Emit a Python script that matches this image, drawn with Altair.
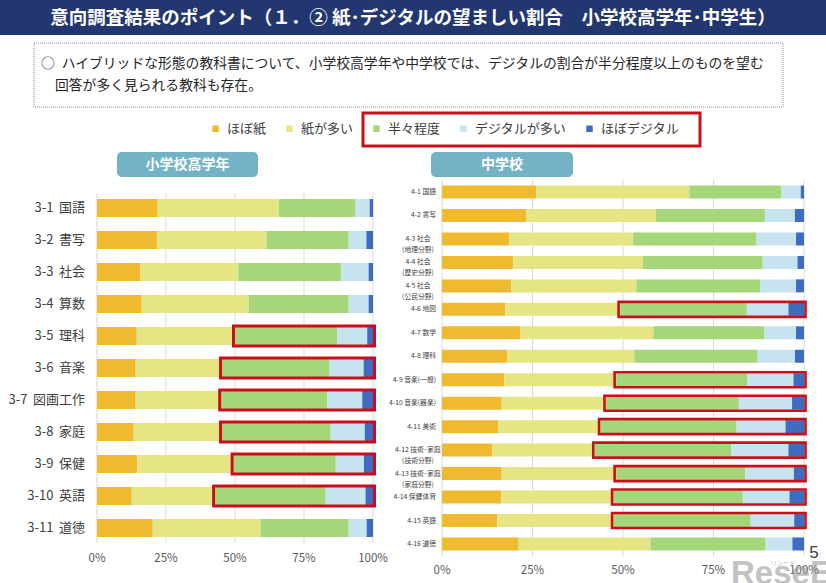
import altair as alt
import pandas as pd

FONT = "Noto Sans CJK JP"

categories = ["ほぼ紙", "紙が多い", "半々程度", "デジタルが多い", "ほぼデジタル"]
colors = ["#EFBA2F", "#E6E583", "#A6D67A", "#C6E3EF", "#3D6CC0"]

# 小学校高学年
elem_subjects = ["3-1\u00a0\u2009国語", "3-2\u00a0\u2009書写", "3-3\u00a0\u2009社会", "3-4\u00a0\u2009算数",
                 "3-5\u00a0\u2009理科", "3-6\u00a0\u2009音楽", "3-7\u00a0\u2009図画工作", "3-8\u00a0\u2009家庭",
                 "3-9\u00a0\u2009保健", "3-10\u00a0\u2009英語", "3-11\u00a0\u2009道徳"]
elem_mostly_paper = [22.0, 21.7, 15.6, 16.2, 14.4, 14.0, 14.0, 13.3, 14.6, 12.6, 20.2]
elem_more_paper = [44.0, 39.7, 35.6, 38.8, 35.6, 31.3, 31.0, 32.0, 34.9, 30.2, 39.1]
elem_half = [27.8, 29.8, 37.3, 36.2, 37.1, 39.0, 38.5, 39.4, 37.0, 40.1, 31.9]
elem_more_digital = [5.1, 6.4, 9.9, 7.2, 10.8, 12.3, 12.6, 12.3, 10.2, 14.4, 6.5]
elem_mostly_digital = [1.2, 2.4, 1.6, 1.6, 2.1, 3.4, 3.9, 3.0, 3.3, 2.7, 2.3]
elem_highlight = elem_subjects[4:10]

# 中学校
jhs_subjects = ["4-1 国語", "4-2 書写", "4-3 社会\n(地理分野)", "4-4 社会\n(歴史分野)",
                "4-5 社会\n(公民分野)", "4-6 地図", "4-7 数学", "4-8 理科", "4-9 音楽(一般)",
                "4-10 音楽(器楽)", "4-11 美術", "4-12 技術･家庭\n(技術分野)",
                "4-13 技術･家庭\n(家庭分野)", "4-14 保健体育", "4-15 英語", "4-16 道徳"]
jhs_mostly_paper = [26.1, 23.3, 18.5, 19.6, 19.2, 17.5, 21.7, 18.0, 17.2, 16.5, 15.6, 13.9, 16.5, 16.4, 15.3, 21.2]
jhs_more_paper = [42.2, 35.8, 34.3, 35.9, 34.5, 31.7, 36.7, 35.1, 30.9, 28.8, 28.2, 28.3, 31.6, 31.0, 32.1, 36.4]
jhs_half = [25.5, 30.1, 34.1, 33.1, 34.3, 35.0, 30.7, 34.1, 36.2, 36.7, 37.6, 37.7, 35.7, 35.7, 37.9, 31.8]
jhs_more_digital = [5.3, 8.3, 10.9, 9.6, 9.8, 11.5, 8.7, 10.3, 12.8, 14.7, 13.5, 15.8, 13.4, 12.9, 12.0, 7.4]
jhs_mostly_digital = [0.9, 2.5, 2.2, 1.8, 2.2, 4.3, 2.2, 2.5, 2.9, 3.3, 5.1, 4.3, 2.8, 4.0, 2.7, 3.2]
jhs_highlight = ["4-6 地図", "4-9 音楽(一般)", "4-10 音楽(器楽)", "4-11 美術",
                 "4-12 技術･家庭\n(技術分野)", "4-13 技術･家庭\n(家庭分野)", "4-14 保健体育", "4-15 英語"]

tick_values = [0, 0.25, 0.5, 0.75, 1]
tick_labels = ["0%", "25%", "50%", "75%", "100%"]

title_text = "意向調査結果のポイント（１．② 紙･デジタルの望ましい割合　小学校高学年･中学生）"
note_line1 = "○\u2002ハイブリッドな形態の教科書について、小学校高学年や中学校では、デジタルの割合が半分程度以上のものを望む"
note_line2 = "回答が多く見られる教科も存在。"
elem_header = "小学校高学年"
jhs_header = "中学校"

RED = "#C8101A"
PILL = "#74B3C5"
NAVY = "#22366F"

legend = alt.Legend(orient="none", legendX=209, legendY=122, direction="horizontal",
                    symbolType="square", symbolSize=42, symbolStrokeWidth=0,
                    labelFont=FONT, labelFontSize=13, labelColor="#404040",
                    labelOffset=5, columnPadding=16, padding=0,
                    labelExpr="datum.label == '紙が多い' ? '紙が多い　　' : datum.label")

ticks = pd.DataFrame({"t": tick_values, "lab": tick_labels})


def long_df(subjects, series):
    rows = []
    for j, cat in enumerate(categories):
        for i, s in enumerate(subjects):
            rows.append({"subject": s, "category": cat, "idx": j, "value": series[j][i]})
    return pd.DataFrame(rows)


def box_df(subjects, series, highlight):
    rows = []
    for i, s in enumerate(subjects):
        if s in highlight:
            total = sum(ser[i] for ser in series)
            rows.append({"subject": s, "start": (series[0][i] + series[1][i]) / total, "end": 1.0})
    return pd.DataFrame(rows)


def panel(subjects, series, highlight, x_range, y_range, bar_size, box_size, box_stroke,
          grid_y, tick_y, tick_size, label_layers_fn):
    xs = alt.Scale(domain=[0, 1], range=x_range, nice=False, zero=False)
    ys = alt.Scale(domain=subjects, range=y_range, paddingInner=0, paddingOuter=0)
    grid = alt.Chart(ticks).mark_rule(color="#D9D9D9", strokeWidth=1).encode(
        x=alt.X("t:Q", scale=xs, axis=None),
        y=alt.value(grid_y[0]), y2=alt.value(grid_y[1]))
    bars = alt.Chart(long_df(subjects, series)).mark_bar(size=bar_size).encode(
        x=alt.X("value:Q", stack="normalize", scale=xs, axis=None),
        y=alt.Y("subject:N", scale=ys, axis=None),
        color=alt.Color("category:N", scale=alt.Scale(domain=categories, range=colors),
                        legend=legend, title=None),
        order=alt.Order("idx:Q", sort="ascending"))
    boxes = alt.Chart(box_df(subjects, series, highlight)).mark_bar(
        size=box_size, fillOpacity=0, stroke=RED, strokeWidth=box_stroke,
        xOffset=-1.5, x2Offset=1.5).encode(
        x=alt.X("start:Q", scale=xs, axis=None), x2="end:Q",
        y=alt.Y("subject:N", scale=ys, axis=None))
    xlabels = alt.Chart(ticks).mark_text(font=FONT, fontSize=tick_size, color="#595959",
                                         baseline="middle").encode(
        x=alt.X("t:Q", scale=xs, axis=None), y=alt.value(tick_y), text="lab:N")
    layers = [grid, bars, boxes, xlabels] + label_layers_fn(ys)
    return alt.layer(*layers)


def elem_labels(ys):
    df = pd.DataFrame({"subject": elem_subjects})
    return [alt.Chart(df).mark_text(font=FONT, fontSize=13, color="#404040",
                                    align="right", baseline="middle").encode(
        y=alt.Y("subject:N", scale=ys, axis=None), x=alt.value(85), text="subject:N")]


def jhs_labels(ys):
    single = pd.DataFrame({"subject": [s for s in jhs_subjects if "\n" not in s]})
    multi = pd.DataFrame({"subject": [s for s in jhs_subjects if "\n" in s]})
    a = alt.Chart(single).mark_text(font=FONT, fontSize=6.8, color="#404040",
                                    align="right", baseline="middle").encode(
        y=alt.Y("subject:N", scale=ys, axis=None), x=alt.value(436), text="subject:N")
    b = alt.Chart(multi).mark_text(font=FONT, fontSize=6.8, color="#404040", lineBreak="\n",
                                   lineHeight=11, align="center", baseline="middle").encode(
        y=alt.Y("subject:N", scale=ys, axis=None), x=alt.value(418), text="subject:N")
    return [a, b]


left = panel(elem_subjects,
             [elem_mostly_paper, elem_more_paper, elem_half, elem_more_digital, elem_mostly_digital],
             elem_highlight, [97, 373], [192, 544], 18, 20, 3, (193, 543), 559, 11.5, elem_labels)
right = panel(jhs_subjects,
              [jhs_mostly_paper, jhs_more_paper, jhs_half, jhs_more_digital, jhs_mostly_digital],
              jhs_highlight, [442, 804], [180.3, 555.7], 13, 15, 2.6, (180, 556), 571, 11.5, jhs_labels)

one = pd.DataFrame({"k": [0]})

title_bar = alt.Chart(one).mark_rect(color=NAVY).encode(
    x=alt.value(0), x2=alt.value(826), y=alt.value(0), y2=alt.value(35))
title = alt.Chart(one).mark_text(text=title_text, font=FONT, fontSize=18.5, fontWeight="bold",
                                 color="white", align="center", baseline="middle").encode(
    x=alt.value(413), y=alt.value(18))
note_box = alt.Chart(one).mark_rect(fill="white", stroke="#8C8C8C", strokeWidth=1,
                                    strokeDash=[1, 1]).encode(
    x=alt.value(34), x2=alt.value(783), y=alt.value(43), y2=alt.value(107))
note1 = alt.Chart(one).mark_text(text=note_line1, font=FONT, fontSize=13.8, color="#262626",
                                 align="left", baseline="middle").encode(
    x=alt.value(41), y=alt.value(64))
note2 = alt.Chart(one).mark_text(text=note_line2, font=FONT, fontSize=13.8, color="#262626",
                                 align="left", baseline="middle").encode(
    x=alt.value(55), y=alt.value(86))
legend_box = alt.Chart(one).mark_rect(fillOpacity=0, stroke=RED, strokeWidth=3).encode(
    x=alt.value(363), x2=alt.value(700), y=alt.value(113), y2=alt.value(146))
pill1 = alt.Chart(one).mark_rect(color=PILL, cornerRadius=5).encode(
    x=alt.value(117), x2=alt.value(258), y=alt.value(152), y2=alt.value(177))
pill2 = alt.Chart(one).mark_rect(color=PILL, cornerRadius=5).encode(
    x=alt.value(431), x2=alt.value(573), y=alt.value(152), y2=alt.value(177))
pill1_t = alt.Chart(one).mark_text(text=elem_header, font=FONT, fontSize=14, fontWeight="bold",
                                   color="white", align="center", baseline="middle").encode(
    x=alt.value(187.5), y=alt.value(164.5))
pill2_t = alt.Chart(one).mark_text(text=jhs_header, font=FONT, fontSize=14, fontWeight="bold",
                                   color="white", align="center", baseline="middle").encode(
    x=alt.value(502), y=alt.value(164.5))
page_no = alt.Chart(one).mark_text(text="5", font="Liberation Sans", fontSize=17, color="#404040",
                                   align="center", baseline="middle").encode(
    x=alt.value(814), y=alt.value(553))
wm = alt.Chart(one).mark_text(text="ReseEd", font="Liberation Sans", fontSize=33, fontWeight="bold",
                              color="#9A9A9A", opacity=0.6, align="left",
                              baseline="alphabetic").encode(
    x=alt.value(731), y=alt.value(584))
wm2 = alt.Chart(one).mark_text(text="リシード", font=FONT, fontSize=6, color="#9A9A9A",
                               opacity=0.7, align="center", baseline="middle").encode(
    x=alt.value(783), y=alt.value(563))

chart = alt.layer(
    title_bar, title, note_box, note1, note2, legend_box, pill1, pill2, pill1_t, pill2_t,
    left, right, page_no, wm, wm2
).resolve_scale(
    x="independent", y="independent"
).properties(
    width=826, height=583, padding=0, autosize="none", background="white"
).configure_view(strokeWidth=0)

chart.save("out.html", embed_options={"renderer": "svg", "actions": False})
